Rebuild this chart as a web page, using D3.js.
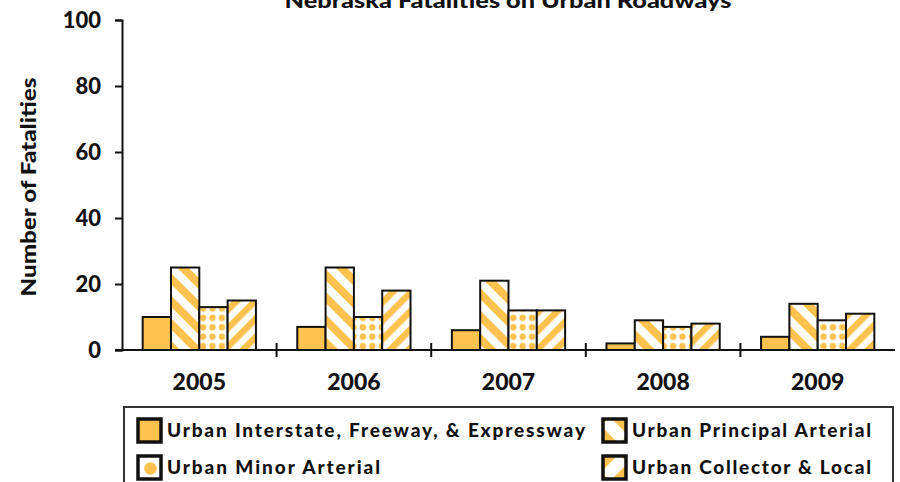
<!DOCTYPE html>
<html><head><meta charset="utf-8">
<script src="https://cdn.jsdelivr.net/npm/d3@7"></script>
<style>body{margin:0;background:#fff}svg{display:block}text{font-family:Lato,"Open Sans",sans-serif;font-weight:900;fill:#111}</style>
</head><body>
<script>
const years = ["2005","2006","2007","2008","2009"];
const seriesNames = ["Urban Interstate, Freeway, & Expressway","Urban Principal Arterial","Urban Minor Arterial","Urban Collector & Local"];
const interstate = [10,7,6,2,4];
const principal = [25,25,21,9,14];
const minor = [13,10,12,7,9];
const collector = [15,18,12,8,11];
const yTicks = [0,20,40,60,80,100];
const seriesValues = [interstate, principal, minor, collector];

const W=900,H=482;
const orange="#FFC24F";
const svg=d3.select("body").append("svg").attr("width",W).attr("height",H);
const defs=svg.append("defs");
function stripe(id,angle,period){
  const p=defs.append("pattern").attr("id",id).attr("patternUnits","userSpaceOnUse")
    .attr("width",period).attr("height",period).attr("patternTransform",`rotate(${angle})`);
  p.append("rect").attr("width",period).attr("height",period).attr("fill","#fff");
  p.append("rect").attr("width",period/2).attr("height",period).attr("fill",orange);
}
stripe("pPrin",-45,16);
stripe("pColl",45,13);
const dp=defs.append("pattern").attr("id","pDots").attr("patternUnits","userSpaceOnUse").attr("width",9.4).attr("height",9.4).attr("x",1).attr("y",3);
dp.append("rect").attr("width",9.4).attr("height",9.4).attr("fill","#fff");
dp.append("circle").attr("cx",4.7).attr("cy",4.7).attr("r",3.2).attr("fill",orange);
const fills=[orange,"url(#pPrin)","url(#pDots)","url(#pColl)"];

const x0=d3.scaleBand().domain(years).range([122,895]).paddingInner(0).paddingOuter(0);
const x1=d3.scaleBand().domain(d3.range(4)).range([0,x0.bandwidth()]).paddingOuter(0.73).paddingInner(0);
const y=d3.scaleLinear().domain([0,100]).range([350,20]);

// title
svg.append("text").attr("x",508).attr("y",8).attr("text-anchor","middle").style("font-size","21px")
  .attr("textLength",447).attr("lengthAdjust","spacingAndGlyphs").text("Nebraska Fatalities on Urban Roadways");

// bars
const g=svg.append("g");
years.forEach((yr,i)=>{
  seriesValues.forEach((vals,s)=>{
    g.append("rect").attr("x",x0(yr)+x1(s)).attr("y",y(vals[i])).attr("width",x1.bandwidth()).attr("height",y(0)-y(vals[i]))
     .attr("fill",fills[s]).attr("stroke","#111").attr("stroke-width",2);
  });
});

// y axis
const ya=svg.append("g").attr("transform","translate(122,0)").call(d3.axisLeft(y).tickValues(yTicks).tickSize(7).tickPadding(14));
ya.select(".domain").attr("stroke","#111").attr("stroke-width",2);
ya.selectAll(".tick line").attr("stroke","#111").attr("stroke-width",2);
ya.selectAll("text").style("font-size","22px").style("font-family","Lato,sans-serif").style("font-weight","900").attr("fill","#111");

// x axis
const xa=svg.append("g").attr("transform","translate(0,350)");
xa.append("line").attr("x1",115).attr("x2",895).attr("y1",0).attr("y2",0).attr("stroke","#111").attr("stroke-width",2);
years.slice(1).forEach(yr=>{
  xa.append("line").attr("x1",x0(yr)).attr("x2",x0(yr)).attr("y1",-7).attr("y2",7).attr("stroke","#111").attr("stroke-width",2);
});
years.forEach(yr=>{
  xa.append("text").attr("x",x0(yr)+x0.bandwidth()/2).attr("y",40).attr("text-anchor","middle").style("font-size","23px").text(yr);
});

// y title
svg.append("text").attr("transform","translate(36,187) rotate(-90)").attr("text-anchor","middle").style("font-size","20px")
  .attr("textLength",219).attr("lengthAdjust","spacingAndGlyphs").text("Number of Fatalities");

// legend
svg.append("rect").attr("x",124).attr("y",407).attr("width",769).attr("height",90).attr("fill","#fff").attr("stroke","#333").attr("stroke-width",2);
const legPos=[{x:138,y:419,tw:418},{x:603,y:419,tw:239},{x:138,y:456,tw:213},{x:603,y:456,tw:239}];
legPos.forEach((p,s)=>{
  const lg=svg.append("g").attr("transform",`translate(${p.x},${p.y})`);
  const sz=23;
  const cid="clip"+s;
  defs.append("clipPath").attr("id",cid).append("rect").attr("x",0).attr("y",0).attr("width",sz).attr("height",sz);
  if(s===0){
    lg.append("rect").attr("width",sz).attr("height",sz).attr("fill",orange);
  } else if(s===2){
    lg.append("rect").attr("width",sz).attr("height",sz).attr("fill","#fff");
    lg.append("circle").attr("cx",sz/2+1).attr("cy",sz/2+1).attr("r",6.2).attr("fill",orange);
  } else {
    lg.append("rect").attr("width",sz).attr("height",sz).attr("fill",orange);
    const w=5;
    const poly = s===1 ? [[-2,2+w],[2+w,-2],[sz+2,sz-2-w],[sz-2-w,sz+2]] : [[sz-2-w,-2],[sz+2,2+w],[2+w,sz+2],[-2,sz-2-w]];
    lg.append("polygon").attr("clip-path",`url(#${cid})`).attr("points",poly.map(d=>d.join(",")).join(" ")).attr("fill","#fff");
  }
  lg.append("rect").attr("width",sz).attr("height",sz).attr("fill","none").attr("stroke","#111").attr("stroke-width",3.5);
  svg.append("text").attr("x",p.x+29).attr("y",p.y+18).style("font-size","19px")
    .attr("textLength",p.tw).attr("lengthAdjust","spacing").text(seriesNames[s]);
});
</script>
</body></html>
